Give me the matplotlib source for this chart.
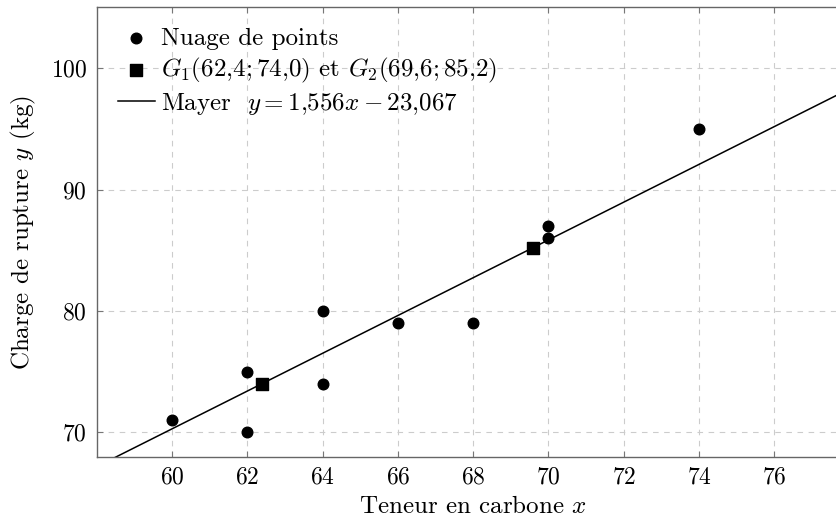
import numpy as np
import matplotlib
matplotlib.use('Agg')
import matplotlib.pyplot as plt

# Computer Modern look (LaTeX/pgfplots style)
plt.rcParams['font.family'] = 'serif'
plt.rcParams['font.serif'] = ['cmr10']
plt.rcParams['mathtext.fontset'] = 'cm'
plt.rcParams['axes.formatter.use_mathtext'] = True

# ----------------------------- data -----------------------------
carbone_x = [60, 62, 62, 64, 64, 66, 68, 70, 70, 74]
rupture_y = [71, 75, 70, 80, 74, 79, 79, 87, 86, 95]

g_x = [62.4, 69.6]
g_y = [74.0, 85.2]

pente = 1.556
ordonnee = -23.067

x_ticks = [60, 62, 64, 66, 68, 70, 72, 74, 76]
y_ticks = [70, 80, 90, 100]

# ----------------------------- figure -----------------------------
fig = plt.figure(figsize=(8.37, 5.17), dpi=100)
ax = fig.add_axes([0.1155, 0.1166, 0.8996, 0.869])

ax.set_xlim(58, 78)
ax.set_ylim(68, 105)

ax.scatter(carbone_x, rupture_y, s=58, color='k', zorder=3,
           label='Nuage de points')
ax.scatter(g_x, g_y, s=85, marker='s', color='k', zorder=3,
           label=r'$G_1(62{,}4;74{,}0)$ et $G_2(69{,}6;85{,}2)$')

xs = np.array([58, 78])
ax.plot(xs, pente * xs + ordonnee, color='k', lw=1.1, zorder=2,
        label=r'Mayer  $y = 1{,}556x - 23{,}067$')

ax.set_xticks(x_ticks)
ax.set_yticks(y_ticks)
ax.tick_params(direction='in', length=4, width=0.8, color='#777777',
               top=True, right=True, labelsize=17, pad=7)
ax.grid(True, color='#cccccc', linestyle=(0, (5, 5)), linewidth=0.8)
ax.set_axisbelow(True)
for s in ax.spines.values():
    s.set_color('#666666')
    s.set_linewidth(1.0)

ax.set_xlabel(r'Teneur en carbone $x$', fontsize=18, labelpad=5)
ax.set_ylabel(r'Charge de rupture $y$ (kg)', fontsize=18, labelpad=9)

ax.legend(loc='upper left', frameon=False, fontsize=18,
          handlelength=1.5, handletextpad=0.22, labelspacing=0.24,
          borderaxespad=0.44, bbox_to_anchor=(0.0, 1.002))

fig.savefig('out.png', dpi=100)
